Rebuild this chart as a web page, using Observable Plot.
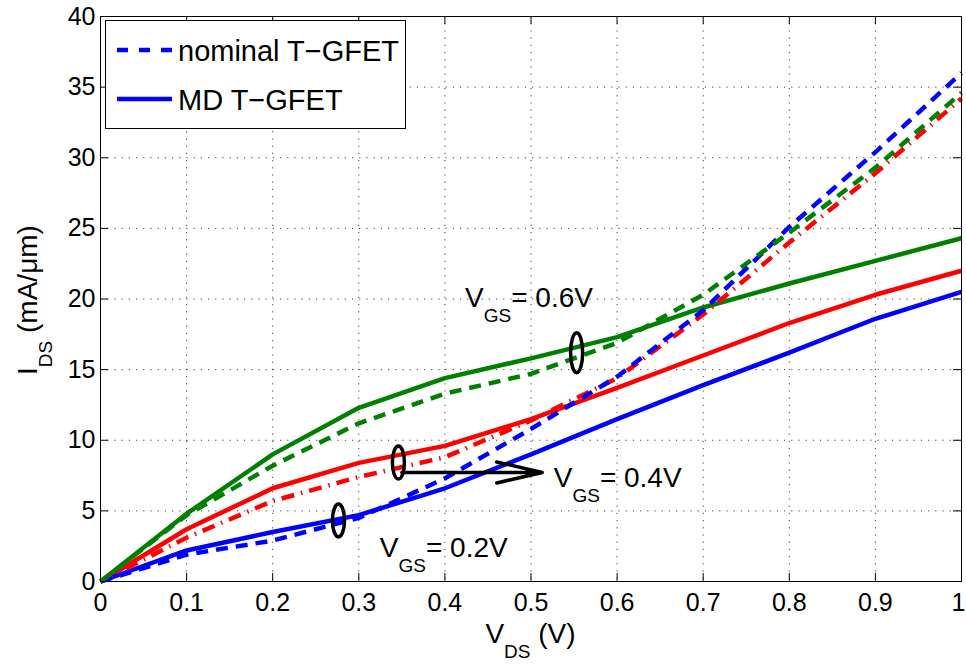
<!DOCTYPE html>
<html>
<head>
<meta charset="utf-8">
<script src="https://cdn.jsdelivr.net/npm/d3@7"></script>
<script src="https://cdn.jsdelivr.net/npm/@observablehq/plot@0.6"></script>
<style>
  html, body { margin: 0; padding: 0; background: #fff; }
  svg { display: block; }
</style>
</head>
<body>
<div id="chart"></div>
<script>
// ---------- data ----------
const vds = [0, 0.1, 0.2, 0.3, 0.4, 0.5, 0.6, 0.7, 0.8, 0.9, 1.0];

const nominal02 = [0, 1.9, 2.9, 4.5, 7.3, 10.8, 14.5, 19.2, 25.1, 30.4, 36.0];
const md02      = [0, 2.2, 3.5, 4.7, 6.6, 9.0, 11.5, 13.9, 16.2, 18.6, 20.5];
const nominal04 = [0, 3.1, 5.7, 7.4, 8.8, 11.4, 14.4, 18.9, 24.0, 28.9, 34.2];
const md04      = [0, 3.7, 6.6, 8.4, 9.6, 11.5, 13.7, 16.0, 18.3, 20.3, 22.0];
const nominal06 = [0, 4.7, 8.2, 11.2, 13.3, 14.7, 16.9, 20.3, 24.7, 29.3, 34.6];
const md06      = [0, 4.8, 9.0, 12.3, 14.4, 15.8, 17.3, 19.4, 21.1, 22.7, 24.3];

const xTicks = [0, 0.1, 0.2, 0.3, 0.4, 0.5, 0.6, 0.7, 0.8, 0.9, 1];
const xTickLabels = ["0", "0.1", "0.2", "0.3", "0.4", "0.5", "0.6", "0.7", "0.8", "0.9", "1"];
const yTicks = [0, 5, 10, 15, 20, 25, 30, 35, 40];

const legendLabels = ["nominal T\u2212GFET", "MD T\u2212GFET"];
const xLabel = ["V", "DS", " (V)"];
const yLabel = ["I", "DS", " (mA/\u03bcm)"];

// V_GS annotations
const vgsValues = ["0.2V", "0.4V", "0.6V"];
const vgsLabelX = [0.325, 0.527, 0.424];
const vgsLabelY = [1.7, 6.65, 19.4];
const ellipseX = [0.2764, 0.346, 0.553];
const ellipseY = [4.32, 8.42, 16.2];
const arrowX1 = [0.350];
const arrowX2 = [0.513];
const arrowY  = [7.72];

// ---------- helpers ----------
const rows = (vals) => vds.map((x, i) => ({x, y: vals[i]}));

function ellipseSymbol(rx, ry) {
  const k = 0.5523;
  return {
    draw(ctx) {
      ctx.moveTo(rx, 0);
      ctx.bezierCurveTo(rx, ry * k, rx * k, ry, 0, ry);
      ctx.bezierCurveTo(-rx * k, ry, -rx, ry * k, -rx, 0);
      ctx.bezierCurveTo(-rx, -ry * k, -rx * k, -ry, 0, -ry);
      ctx.bezierCurveTo(rx * k, -ry, rx, -ry * k, rx, 0);
      ctx.closePath();
    }
  };
}

const BLUE = "#0000ff", RED = "#ff0000", GREEN = "#008000";
const DASH = "12,8";
const DASHDOT = "13,7,1.5,7";
const LW = 4.5;

const lineStyle = (stroke, dash) => ({
  x: "x", y: "y", stroke, strokeWidth: LW,
  strokeDasharray: dash, strokeLinejoin: "round", strokeLinecap: "butt", curve: "linear"
});

const idx3 = [0, 1, 2];

const chart = Plot.plot({
  width: 966,
  height: 664,
  marginLeft: 100,
  marginRight: 5,
  marginTop: 16,
  marginBottom: 83,
  style: {fontFamily: "'Liberation Sans', Arial, Helvetica, sans-serif", fontSize: "25px", color: "black", background: "white"},
  x: {domain: [0, 1], ticks: xTicks, tickFormat: (d) => xTickLabels[xTicks.indexOf(d)] ?? String(d), tickSize: 0, tickPadding: 12, label: null},
  y: {domain: [0, 40], ticks: yTicks, tickSize: 0, tickPadding: 5, label: null},
  marks: [
    // dotted grid
    Plot.ruleX(xTicks, {x: d => d, stroke: "black", strokeOpacity: 0.75, strokeDasharray: "1.2,6"}),
    Plot.ruleY(yTicks, {y: d => d, stroke: "black", strokeOpacity: 0.75, strokeDasharray: "1.2,6"}),
    // inward tick marks
    Plot.tickX(xTicks, {x: d => d, stroke: "black", insetBottom: 557}),
    Plot.tickX(xTicks, {x: d => d, stroke: "black", insetTop: 557}),
    Plot.tickY(yTicks, {y: d => d, stroke: "black", insetRight: 853}),
    Plot.tickY(yTicks, {y: d => d, stroke: "black", insetLeft: 853}),
    // MD (solid) curves
    Plot.line(rows(md04), lineStyle(RED, null)),
    Plot.line(rows(md02), lineStyle(BLUE, null)),
    Plot.line(rows(md06), lineStyle(GREEN, null)),
    // nominal (dashed) curves
    Plot.line(rows(nominal04), lineStyle(RED, DASHDOT)),
    Plot.line(rows(nominal02), lineStyle(BLUE, DASH)),
    Plot.line(rows(nominal06), lineStyle(GREEN, DASH)),
    // annotations
    Plot.dot([0, 1], {x: i => ellipseX[i], y: i => ellipseY[i], symbol: ellipseSymbol(6, 16.5), r: 10, fill: "none", stroke: "black", strokeWidth: 3.5}),
    Plot.dot([2], {x: i => ellipseX[i], y: i => ellipseY[i], symbol: ellipseSymbol(6, 20), r: 10, fill: "none", stroke: "black", strokeWidth: 3.5}),
    Plot.arrow([0], {x1: i => arrowX1[i], x2: i => arrowX2[i], y1: i => arrowY[i], y2: i => arrowY[i], stroke: "black", strokeWidth: 3.5, headLength: 20, headAngle: 26}),
    Plot.frame({stroke: "black", strokeWidth: 1})
  ]
});

document.getElementById("chart").appendChild(chart);

// nudge the last x tick label ("1") so it stays inside the picture, as in the reference
d3.select(chart).selectAll("text").filter(function () {
  return this.textContent === "1" && this.closest("g") && this.closest("g").getAttribute("aria-label") === "x-axis tick label";
}).attr("dx", -3);

// ---------- text with subscripts & legend ----------
const svg = d3.select(chart);
const sx = chart.scale("x"), sy = chart.scale("y");
const X = d3.scaleLinear(sx.domain, sx.range);
const Y = d3.scaleLinear(sy.domain, sy.range);
const FONT = "'Liberation Sans', Arial, Helvetica, sans-serif";

function subText(parent, x, y, main, sub, rest, anchor, transform) {
  const t = parent.append("text")
    .attr("font-family", FONT)
    .attr("font-size", 28)
    .attr("fill", "black")
    .attr("text-anchor", anchor);
  if (transform) t.attr("transform", transform); else t.attr("x", x).attr("y", y);
  t.append("tspan").text(main);
  t.append("tspan").attr("font-size", 19).attr("dy", 15).text(sub);
  t.append("tspan").attr("dy", -15).text(rest);
  return t;
}

const ann = svg.append("g");
idx3.forEach(i => {
  subText(ann, X(vgsLabelX[i]), Y(vgsLabelY[i]), "V", "GS", "= " + vgsValues[i], "start");
});

// axis labels
subText(svg, (sx.range[0] + sx.range[1]) / 2, 643, xLabel[0], xLabel[1], xLabel[2], "middle");
subText(svg, 0, 0, yLabel[0], yLabel[1], yLabel[2], "middle", `translate(37,${300}) rotate(-90)`);

// legend
const lg = svg.append("g");
lg.append("rect").attr("x", 105.5).attr("y", 20.5).attr("width", 300).attr("height", 108)
  .attr("fill", "white").attr("stroke", "black").attr("stroke-width", 1);
const legendY = [50, 99];
const legendDash = ["11,11", null];
legendLabels.forEach((lab, i) => {
  lg.append("line").attr("x1", 117).attr("x2", 172).attr("y1", legendY[i]).attr("y2", legendY[i])
    .attr("stroke", BLUE).attr("stroke-width", LW)
    .attr("stroke-dasharray", legendDash[i]);
  lg.append("text").attr("x", 178).attr("y", legendY[i] + 11)
    .attr("text-anchor", "start")
    .attr("font-family", FONT).attr("font-size", 29).attr("fill", "black").text(lab);
});
</script>
</body>
</html>
